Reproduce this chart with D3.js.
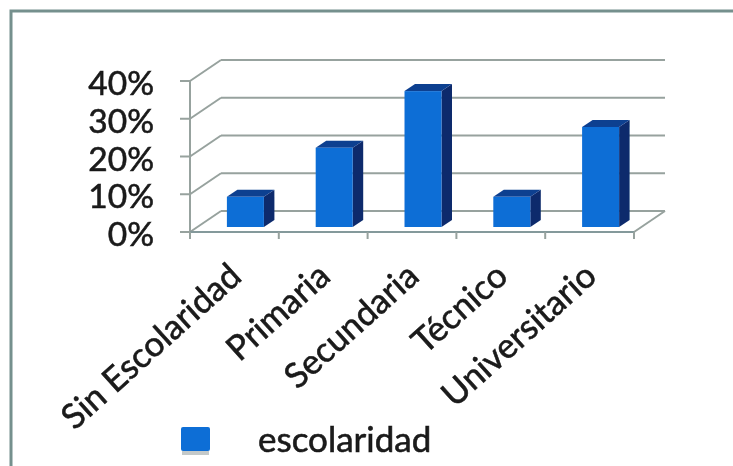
<!DOCTYPE html>
<html lang="en">
<head>
    <meta charset="utf-8">
    <title>Escolaridad</title>
    <script src="https://d3js.org/d3.v7.min.js"></script>
    <style>
        html, body { margin: 0; padding: 0; background: #fff; }
        svg { display: block; }
        text { font-family: Lato, sans-serif; fill: #1a1a1a; stroke: #1a1a1a; stroke-width: 0.6px; }
    </style>
</head>
<body>
    <div id="chart"></div>
    <script>
        // Data
        const categories = ["Sin Escolaridad", "Primaria", "Secundaria", "Técnico", "Universitario"];
        const values = [0.08, 0.21, 0.36, 0.08, 0.265];
        const yTicks = [0, 0.1, 0.2, 0.3, 0.4];
        const seriesName = "escolaridad";

        const width = 733, height = 466;
        const svg = d3.select("#chart").append("svg").attr("width", width).attr("height", height);

        // the reference is a scan, so everything gets a slight blur
        svg.append("defs").append("filter").attr("id", "scan")
            .append("feGaussianBlur").attr("stdDeviation", 0.6);
        const root = svg.append("g").attr("filter", "url(#scan)");

        const x = d3.scaleBand().domain(categories).range([190, 634]).padding(0);
        const y = d3.scaleLinear().domain([0, 0.4]).range([232, 81]);

        // 3d offsets: the back wall, and the bar position inside the floor
        const wall = { dx: 31, dy: -21 };
        const bar = { w: 37, dx: 10.5, dy: -7, floorX: 11, floorY: -5 };
        const gridColor = "#97a29e";

        // frame, top and left only
        root.append("path")
            .attr("d", `M${width + 5},11H11V${height + 5}`)
            .attr("fill", "none")
            .attr("stroke", "#75908d")
            .attr("stroke-width", 3);

        // back wall gridlines and the diagonals on the left wall
        const grid = root.append("g").attr("stroke", gridColor).attr("stroke-width", 2).attr("fill", "none");
        yTicks.forEach(t => {
            grid.append("line")
                .attr("x1", x.range()[0] + wall.dx).attr("x2", x.range()[1] + wall.dx)
                .attr("y1", y(t) + wall.dy).attr("y2", y(t) + wall.dy);
            grid.append("line")
                .attr("x1", x.range()[0]).attr("x2", x.range()[0] + wall.dx)
                .attr("y1", y(t)).attr("y2", y(t) + wall.dy);
            // ticks on the value axis
            grid.append("line")
                .attr("x1", x.range()[0] - 10).attr("x2", x.range()[0])
                .attr("y1", y(t)).attr("y2", y(t));
        });
        // right floor edge
        grid.append("line")
            .attr("x1", x.range()[1]).attr("x2", x.range()[1] + wall.dx)
            .attr("y1", y(0)).attr("y2", y(0) + wall.dy);
        // value axis and category axis
        grid.append("line")
            .attr("x1", x.range()[0]).attr("x2", x.range()[0])
            .attr("y1", y(0.4)).attr("y2", y(0) + 7);
        grid.append("line")
            .attr("x1", x.range()[0]).attr("x2", x.range()[1])
            .attr("y1", y(0)).attr("y2", y(0))
            .attr("stroke", "#84999b");
        const tickPos = categories.map(c => x(c)).concat(x.range()[1]);
        tickPos.forEach(p => {
            grid.append("line").attr("x1", p).attr("x2", p).attr("y1", y(0)).attr("y2", y(0) + 7);
        });

        // value labels
        root.append("g").selectAll("text").data(yTicks).join("text")
            .attr("x", 154)
            .attr("y", d => y(d) + 2)
            .attr("dy", "0.36em")
            .attr("text-anchor", "end")
            .attr("font-size", 33.5)
            .text(d => d3.format(".0%")(d));

        // bars: side, top, front
        const bars = root.append("g").selectAll("g").data(categories).join("g");
        const barLeft = c => x(c) + x.bandwidth() / 2 - bar.w / 2 + bar.floorX;
        const barBase = y(0) + bar.floorY;
        const barTop = i => y(values[i]) + bar.floorY;

        bars.append("path")
            .attr("fill", "#0a2a6c")
            .attr("d", (c, i) => `M${barLeft(c) + bar.w},${barTop(i)}l${bar.dx},${bar.dy}V${barBase + bar.dy}l${-bar.dx},${-bar.dy}Z`);
        bars.append("path")
            .attr("fill", "#0f3f90")
            .attr("d", (c, i) => `M${barLeft(c)},${barTop(i)}l${bar.dx},${bar.dy}h${bar.w}l${-bar.dx},${-bar.dy}Z`);
        bars.append("rect")
            .attr("fill", "#0e6ed6")
            .attr("x", c => barLeft(c))
            .attr("y", (c, i) => barTop(i))
            .attr("width", bar.w)
            .attr("height", (c, i) => barBase - barTop(i));

        // category labels, rotated
        root.append("g").selectAll("text").data(categories).join("text")
            .attr("transform", c => `translate(${x(c) + x.bandwidth() / 2 + 9},${y(0) + 47}) rotate(-42)`)
            .attr("text-anchor", "end")
            .attr("font-size", 34.5)
            .text(c => c);

        // legend, with the soft shadow under the swatch
        root.append("rect")
            .attr("x", 182).attr("y", 451).attr("width", 27).attr("height", 4)
            .attr("fill", "#c4c9c9");
        root.append("rect")
            .attr("x", 181).attr("y", 427).attr("width", 29).attr("height", 24).attr("rx", 2)
            .attr("fill", "#0e6ed6");
        root.append("text")
            .attr("x", 258).attr("y", 452)
            .attr("font-size", 35)
            .text(seriesName);
    </script>
</body>
</html>
